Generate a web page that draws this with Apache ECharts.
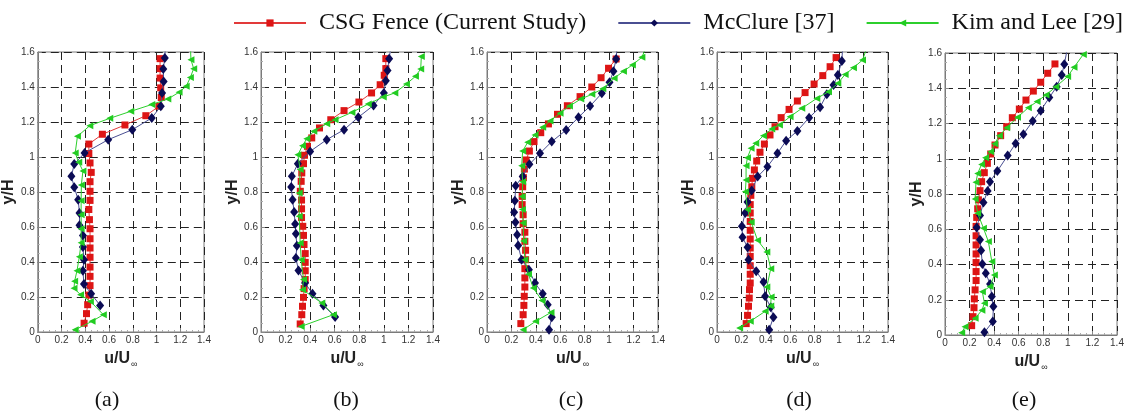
<!DOCTYPE html>
<html>
<head>
<meta charset="utf-8">
<script src="https://cdn.jsdelivr.net/npm/echarts@6/dist/echarts.min.js"></script>
<style>
html,body{margin:0;padding:0;background:#fff;}
#chart{width:1131px;height:415px;}
</style>
</head>
<body>
<div id="chart"></div>
<script>
// ---------- DATA ----------
const seriesNames = ['CSG Fence (Current Study)', 'McClure [37]', 'Kim and Lee [29]'];
const panelLabels = ['(a)', '(b)', '(c)', '(d)', '(e)'];
const xTicks = [0, 0.2, 0.4, 0.6, 0.8, 1, 1.2, 1.4];
const yTicks = [0, 0.2, 0.4, 0.6, 0.8, 1, 1.2, 1.4, 1.6];

// panel (a)  pairs are [u/U, y/H]
const csgA = [[0.39,0.05],[0.41,0.105],[0.42,0.156],[0.43,0.211],[0.44,0.265],[0.44,0.318],[0.44,0.371],[0.44,0.427],[0.44,0.48],[0.44,0.533],[0.44,0.59],[0.435,0.642],[0.43,0.70],[0.44,0.752],[0.44,0.804],[0.44,0.859],[0.45,0.912],[0.44,0.966],[0.43,1.02],[0.43,1.074],[0.544,1.13],[0.734,1.183],[0.91,1.236],[1.02,1.29],[1.04,1.34],[1.035,1.395],[1.03,1.451],[1.03,1.505],[1.03,1.562]];
const mccA = [[0.525,0.152],[0.449,0.219],[0.389,0.274],[0.38,0.35],[0.389,0.413],[0.38,0.486],[0.38,0.552],[0.351,0.61],[0.351,0.68],[0.34,0.756],[0.307,0.827],[0.283,0.89],[0.307,0.96],[0.394,1.023],[0.593,1.099],[0.796,1.156],[0.96,1.223],[1.036,1.29],[1.047,1.366],[1.06,1.432],[1.057,1.503],[1.07,1.566],[1.075,1.64]];
const kimA = [[0.315,0.013],[0.457,0.061],[0.552,0.099],[0.443,0.175],[0.36,0.213],[0.305,0.25],[0.31,0.29],[0.33,0.35],[0.35,0.43],[0.365,0.51],[0.365,0.59],[0.365,0.67],[0.365,0.75],[0.367,0.84],[0.38,0.92],[0.345,0.97],[0.315,1.023],[0.334,1.118],[0.438,1.179],[0.606,1.221],[0.783,1.261],[0.96,1.30],[1.095,1.331],[1.19,1.37],[1.25,1.404],[1.285,1.455],[1.313,1.505],[1.29,1.556],[1.285,1.64]];

// panel (b)
const csgB = [[0.319,0.046],[0.332,0.099],[0.338,0.147],[0.346,0.198],[0.351,0.248],[0.36,0.30],[0.36,0.35],[0.36,0.398],[0.36,0.448],[0.35,0.50],[0.346,0.552],[0.34,0.604],[0.33,0.654],[0.33,0.704],[0.33,0.754],[0.32,0.804],[0.327,0.861],[0.332,0.909],[0.346,0.962],[0.354,1.01],[0.378,1.061],[0.413,1.109],[0.476,1.166],[0.568,1.213],[0.676,1.265],[0.797,1.314],[0.90,1.366],[0.97,1.413],[1.003,1.467],[1.016,1.505],[1.016,1.562]];
const mccB = [[0.603,0.086],[0.508,0.152],[0.419,0.219],[0.359,0.28],[0.305,0.352],[0.284,0.423],[0.292,0.493],[0.284,0.562],[0.278,0.617],[0.27,0.686],[0.257,0.756],[0.246,0.829],[0.251,0.89],[0.30,0.962],[0.40,1.032],[0.535,1.099],[0.676,1.156],[0.792,1.227],[0.916,1.295],[1.0,1.366],[1.016,1.436],[1.03,1.495],[1.043,1.562],[1.06,1.64]];
const kimB = [[0.327,0.032],[0.589,0.099],[0.495,0.166],[0.338,0.242],[0.346,0.30],[0.327,0.413],[0.319,0.509],[0.311,0.661],[0.311,0.794],[0.319,0.928],[0.30,1.013],[0.338,1.065],[0.373,1.105],[0.43,1.147],[0.535,1.19],[0.603,1.213],[0.74,1.255],[0.873,1.303],[0.995,1.343],[1.089,1.366],[1.184,1.417],[1.257,1.461],[1.30,1.503],[1.305,1.575]];

// panel (c)
const csgC = [[0.277,0.048],[0.296,0.099],[0.302,0.152],[0.305,0.204],[0.31,0.257],[0.31,0.309],[0.31,0.362],[0.316,0.413],[0.316,0.467],[0.31,0.518],[0.31,0.57],[0.296,0.619],[0.296,0.67],[0.288,0.728],[0.288,0.775],[0.292,0.83],[0.298,0.882],[0.306,0.931],[0.32,0.983],[0.347,1.034],[0.385,1.088],[0.44,1.139],[0.503,1.189],[0.577,1.244],[0.658,1.293],[0.762,1.345],[0.858,1.40],[0.934,1.453],[0.995,1.507],[1.057,1.56]];
const mccC = [[0.508,0.013],[0.53,0.084],[0.497,0.156],[0.456,0.219],[0.393,0.28],[0.343,0.356],[0.283,0.413],[0.255,0.495],[0.247,0.556],[0.233,0.627],[0.222,0.684],[0.228,0.75],[0.235,0.836],[0.292,0.888],[0.347,0.958],[0.434,1.021],[0.53,1.088],[0.648,1.154],[0.749,1.227],[0.844,1.291],[0.94,1.364],[1.003,1.427],[1.035,1.49],[1.057,1.56],[1.066,1.64]];
const kimC = [[0.296,0.013],[0.398,0.061],[0.524,0.112],[0.45,0.18],[0.379,0.251],[0.34,0.33],[0.31,0.413],[0.30,0.52],[0.296,0.623],[0.29,0.70],[0.288,0.775],[0.292,0.859],[0.284,0.95],[0.292,1.034],[0.333,1.084],[0.393,1.126],[0.456,1.17],[0.516,1.206],[0.598,1.25],[0.675,1.291],[0.768,1.331],[0.858,1.358],[0.948,1.39],[1.041,1.45],[1.117,1.49],[1.19,1.526],[1.268,1.57],[1.31,1.64]];

// panel (d)
const csgD = [[0.239,0.048],[0.25,0.095],[0.258,0.147],[0.264,0.194],[0.266,0.242],[0.272,0.28],[0.272,0.33],[0.272,0.379],[0.272,0.432],[0.272,0.48],[0.272,0.531],[0.272,0.581],[0.272,0.632],[0.272,0.68],[0.272,0.728],[0.277,0.781],[0.285,0.83],[0.29,0.878],[0.306,0.926],[0.325,0.977],[0.352,1.027],[0.388,1.074],[0.434,1.126],[0.475,1.173],[0.525,1.225],[0.59,1.272],[0.658,1.32],[0.721,1.368],[0.795,1.417],[0.866,1.465],[0.926,1.516],[0.975,1.568]];
const mccD = [[0.427,0.013],[0.462,0.084],[0.44,0.141],[0.394,0.204],[0.381,0.286],[0.321,0.347],[0.258,0.413],[0.25,0.484],[0.209,0.541],[0.204,0.604],[0.231,0.68],[0.25,0.743],[0.284,0.808],[0.333,0.888],[0.413,0.945],[0.495,1.021],[0.566,1.093],[0.658,1.149],[0.754,1.225],[0.844,1.284],[0.899,1.358],[0.954,1.411],[0.989,1.469],[1.022,1.549],[1.03,1.64]];
const kimD = [[0.185,0.023],[0.272,0.061],[0.394,0.118],[0.44,0.149],[0.443,0.20],[0.408,0.257],[0.44,0.362],[0.408,0.457],[0.332,0.524],[0.28,0.627],[0.25,0.70],[0.232,0.802],[0.238,0.869],[0.238,0.95],[0.249,0.996],[0.279,1.05],[0.317,1.078],[0.38,1.122],[0.448,1.16],[0.511,1.183],[0.598,1.23],[0.694,1.278],[0.817,1.335],[0.913,1.373],[0.989,1.421],[1.049,1.472],[1.117,1.51],[1.191,1.554],[1.225,1.62]];

// panel (e)
const csgE = [[0.217,0.053],[0.228,0.104],[0.236,0.155],[0.239,0.205],[0.245,0.256],[0.253,0.309],[0.253,0.36],[0.253,0.411],[0.253,0.46],[0.253,0.511],[0.253,0.563],[0.253,0.616],[0.258,0.667],[0.266,0.716],[0.272,0.767],[0.285,0.819],[0.298,0.87],[0.32,0.921],[0.345,0.974],[0.372,1.027],[0.407,1.078],[0.453,1.131],[0.502,1.182],[0.548,1.233],[0.605,1.282],[0.659,1.333],[0.719,1.384],[0.779,1.434],[0.836,1.485],[0.895,1.538]];
const mccE = [[0.321,0.015],[0.389,0.076],[0.394,0.161],[0.381,0.218],[0.367,0.29],[0.332,0.35],[0.304,0.403],[0.294,0.479],[0.285,0.54],[0.258,0.61],[0.285,0.678],[0.313,0.752],[0.347,0.817],[0.366,0.87],[0.426,0.93],[0.51,1.018],[0.575,1.087],[0.638,1.139],[0.714,1.214],[0.779,1.273],[0.849,1.347],[0.909,1.409],[0.95,1.475],[0.971,1.536],[1.0,1.64]];
const kimE = [[0.136,0.013],[0.163,0.047],[0.245,0.095],[0.30,0.14],[0.321,0.18],[0.304,0.246],[0.367,0.275],[0.402,0.341],[0.381,0.417],[0.353,0.53],[0.313,0.606],[0.266,0.691],[0.245,0.771],[0.252,0.866],[0.266,0.917],[0.298,0.968],[0.33,1.005],[0.372,1.04],[0.405,1.085],[0.442,1.131],[0.502,1.176],[0.59,1.235],[0.678,1.29],[0.75,1.325],[0.822,1.362],[0.903,1.409],[0.998,1.466],[1.05,1.519],[1.126,1.592]];

const panels = [[csgA, mccA, kimA],[csgB, mccB, kimB],[csgC, mccC, kimC],[csgD, mccD, kimD],[csgE, mccE, kimE]];

// ---------- LAYOUT / STYLE ----------
const grids = [
  {left: 32, top: 52, width: 172, height: 280},
  {left: 261, top: 52, width: 172, height: 280},
  {left: 487, top: 52, width: 171, height: 280},
  {left: 717, top: 52, width: 171, height: 280},
  {left: 945, top: 53, width: 172, height: 282}
];
const captionX = [107, 346, 571, 799, 1024];
const styles = [
  {line: '#e23a3a', mark: '#dd1515', symbol: 'rect', size: 7, rotate: 0},
  {line: '#4a4f92', mark: '#0b0b55', symbol: 'diamond', size: [8, 10], rotate: 0},
  {line: '#2ccf2c', mark: '#22cc22', symbol: 'triangle', size: 7, rotate: 90}
];
const labelFont = 'Liberation Sans, Arial, sans-serif';
const serifFont = 'Liberation Serif, Times New Roman, serif';

const xAxes = [], yAxes = [], series = [], graphics = [];
grids.forEach((g, i) => {
  g.show = true; g.borderColor = '#7a7a7a'; g.borderWidth = 1;
  xAxes.push({
    gridIndex: i, type: 'value', min: xTicks[0], max: xTicks[xTicks.length - 1], interval: 0.2,
    name: '{a|u/U}{b|∞}', nameLocation: 'middle', nameGap: 16,
    nameTextStyle: {rich: {a: {fontFamily: labelFont, fontWeight: 'bold', fontSize: 16, color: '#222'},
                           b: {fontFamily: labelFont, fontSize: 9, color: '#222', padding: [12, 0, 0, 1]}}},
    axisLine: {show: true, lineStyle: {color: '#7a7a7a'}},
    axisTick: {show: true, inside: true, length: 4, lineStyle: {color: '#888'}},
    minorTick: {show: true, splitNumber: 4, length: 2, lineStyle: {color: '#aaa'}},
    axisLabel: {fontFamily: labelFont, fontSize: 10, color: '#333', margin: 3},
    splitLine: {show: true, lineStyle: {color: '#222', type: [8, 5], width: 1}}
  });
  yAxes.push({
    gridIndex: i, type: 'value', min: yTicks[0], max: yTicks[yTicks.length - 1], interval: 0.2,
    name: 'y/H', nameLocation: 'middle', nameGap: 15, nameRotate: 90,
    nameTextStyle: {fontFamily: labelFont, fontWeight: 'bold', fontSize: 16, color: '#222'},
    axisLine: {show: true, lineStyle: {color: '#7a7a7a'}},
    axisTick: {show: true, inside: true, length: 4, lineStyle: {color: '#888'}},
    minorTick: {show: true, splitNumber: 4, length: 2, lineStyle: {color: '#aaa'}},
    axisLabel: {fontFamily: labelFont, fontSize: 10, color: '#333', margin: 3},
    splitLine: {show: true, lineStyle: {color: '#222', type: [8, 5], width: 1}}
  });
  panels[i].forEach((data, k) => {
    const st = styles[k];
    series.push({
      name: seriesNames[k], type: 'line', xAxisIndex: i, yAxisIndex: i,
      data: data, clip: true, animation: false,
      symbol: st.symbol, symbolSize: st.size, symbolRotate: st.rotate, showAllSymbol: true,
      lineStyle: {color: st.line, width: 1},
      itemStyle: {color: st.mark, borderWidth: 0},
      z: 3 + k
    });
  });
  graphics.push({type: 'text', x: captionX[i], y: 400,
    style: {text: panelLabels[i], font: '22px ' + serifFont, fill: '#111', textAlign: 'center', textVerticalAlign: 'middle'}});
});

const chart = echarts.init(document.getElementById('chart'), null, {renderer: 'canvas'});
chart.setOption({
  backgroundColor: '#fff',
  animation: false,
  legend: {
    top: 6, left: 228, width: 900, itemWidth: 72, itemHeight: 9, itemGap: 31,
    data: seriesNames,
    textStyle: {fontFamily: serifFont, fontSize: 24, color: '#111', padding: [0, 0, 0, 8]}
  },
  grid: grids, xAxis: xAxes, yAxis: yAxes, series: series, graphic: graphics
});
</script>
</body>
</html>
